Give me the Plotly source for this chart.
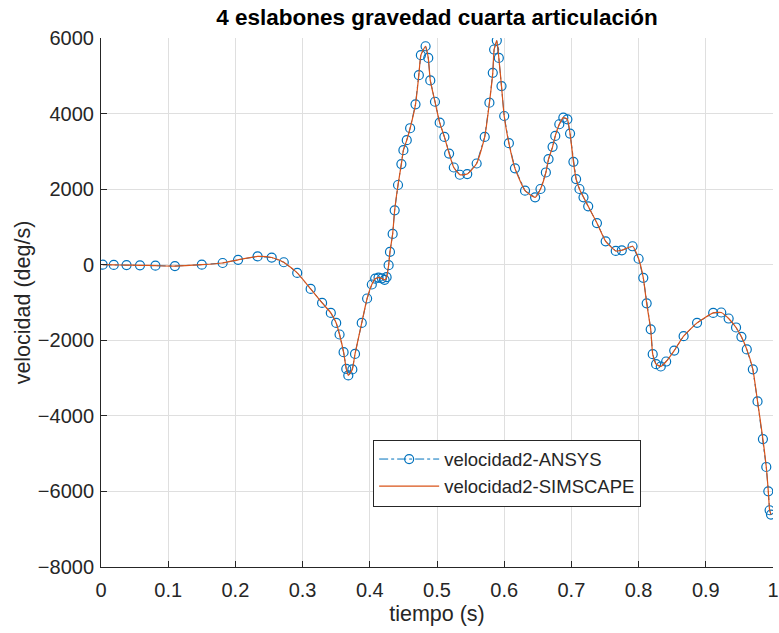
import plotly.graph_objects as go

# ---- data ----
tiempo = [0.0025, 0.019, 0.038, 0.058, 0.081, 0.110, 0.150, 0.181, 0.204, 0.233,
          0.254, 0.272, 0.292, 0.312, 0.329, 0.342, 0.350, 0.355, 0.361, 0.365,
          0.368, 0.374, 0.378, 0.388, 0.396, 0.403, 0.408, 0.413, 0.418, 0.422,
          0.425, 0.428, 0.430, 0.434, 0.437, 0.442, 0.447, 0.450, 0.455, 0.460,
          0.468, 0.473, 0.476, 0.483, 0.487, 0.490, 0.497, 0.504, 0.511, 0.518,
          0.525, 0.534, 0.545, 0.559, 0.571, 0.578, 0.583, 0.585, 0.589, 0.592,
          0.596, 0.600, 0.607, 0.616, 0.631, 0.646, 0.654, 0.662, 0.666, 0.672,
          0.676, 0.682, 0.688, 0.694, 0.698, 0.703, 0.707, 0.712, 0.718, 0.725,
          0.738, 0.751, 0.766, 0.775, 0.791, 0.800, 0.807, 0.812, 0.818, 0.821,
          0.826, 0.833, 0.841, 0.853, 0.867, 0.887, 0.911, 0.923, 0.934, 0.945,
          0.953, 0.961, 0.970, 0.977, 0.985, 0.990, 0.993, 0.995, 0.997]

velocidad_ansys = [0, -5, -10, -15, -25, -35, 0, 45, 130, 220,
                   190, 65, -217, -640, -1010, -1275, -1540, -1847, -2315, -2757,
                   -2930, -2772, -2360, -1540, -894, -524, -370, -340, -360, -400,
                   -330, -13, 339, 815, 1440, 2110, 2663, 3032, 3296, 3612,
                   4245, 5017, 5545, 5782, 5474, 4878, 4313, 3760, 3383, 2942,
                   2573, 2381, 2399, 2679, 3383, 4287, 5078, 5695, 5932, 5474,
                   4727, 3936, 3217, 2550, 1959, 1783, 2004, 2441, 2795, 3119,
                   3409, 3717, 3891, 3849, 3470, 2723, 2267, 2004, 1783, 1545,
                   1102, 620, 364, 382, 488, 158, -348, -1023, -1709, -2368,
                   -2632, -2694, -2562, -2272, -1890, -1539, -1275, -1265, -1424, -1661,
                   -1908, -2241, -2768, -3617, -4614, -5353, -5997, -6498, -6612]

velocidad_simscape = velocidad_ansys

x_ticks = [0, 0.1, 0.2, 0.3, 0.4, 0.5, 0.6, 0.7, 0.8, 0.9, 1]
x_tick_labels = ["0", "0.1", "0.2", "0.3", "0.4", "0.5", "0.6", "0.7", "0.8", "0.9", "1"]
y_ticks = [-8000, -6000, -4000, -2000, 0, 2000, 4000, 6000]

FONT = "Liberation Sans, Arial, sans-serif"
AX = "#262626"
GRID = "#dfdfdf"

fig = go.Figure()
fig.add_trace(go.Scatter(
    x=tiempo, y=velocidad_ansys, name="velocidad2-ANSYS", mode="lines+markers",
    line=dict(color="#0072BD", width=1, dash="dashdot"),
    marker=dict(symbol="circle-open", size=9, color="#0072BD", line=dict(width=1.2)),
))
fig.add_trace(go.Scatter(
    x=tiempo, y=velocidad_simscape, name="velocidad2-SIMSCAPE", mode="lines",
    line=dict(color="#D95319", width=1.2, shape="spline", smoothing=0.5),
))

fig.update_layout(
    width=779, height=633,
    margin=dict(l=101, r=6, t=38, b=66, autoexpand=False),
    paper_bgcolor="white", plot_bgcolor="white",
    font=dict(family=FONT, color=AX, size=20),
    title=dict(text="<b>4 eslabones gravedad cuarta articulación</b>",
               x=0.561, xanchor="center", y=1 - 17 / 633, yanchor="middle",
               yref="container", font=dict(size=22.5, color="black")),
    showlegend=True,
    legend=dict(x=0.405, y=0.241, xanchor="left", yanchor="top",
                bgcolor="white", bordercolor=AX, borderwidth=1,
                font=dict(size=18.5, color=AX), itemwidth=60,
                tracegroupgap=0),
    xaxis=dict(range=[0, 1], tickvals=x_ticks, ticktext=x_tick_labels,
               showgrid=True, gridcolor=GRID, gridwidth=1,
               showline=True, linecolor=AX, linewidth=1,
               ticks="inside", ticklen=6, tickcolor=AX,
               zeroline=False, mirror=False, ticklabelstandoff=5,
               ticklabeloverflow="allow",
               title=dict(text="tiempo (s)", font=dict(size=21.5, color=AX), standoff=5),
               tickfont=dict(size=20, color=AX)),
    yaxis=dict(range=[-8000, 6000], tickvals=y_ticks,
               showgrid=True, gridcolor=GRID, gridwidth=1,
               showline=True, linecolor=AX, linewidth=1,
               ticks="inside", ticklen=6, tickcolor=AX,
               zeroline=False, mirror=False, ticklabelstandoff=2,
               ticklabeloverflow="allow",
               title=dict(text="velocidad (deg/s)", font=dict(size=21.5, color=AX), standoff=1),
               tickfont=dict(size=20, color=AX)),
)

fig.write_html("out.html", config={"displayModeBar": False},
               post_script="document.body.style.margin='0';")
